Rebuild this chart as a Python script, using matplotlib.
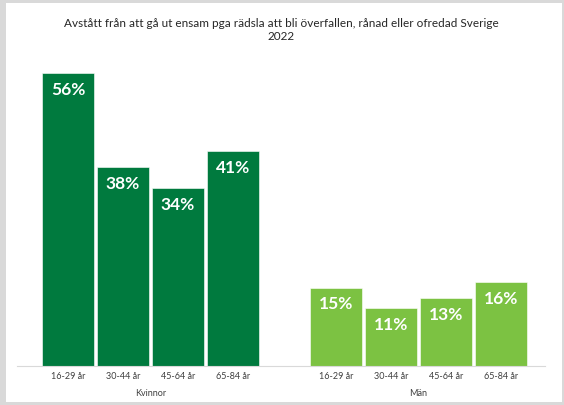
import matplotlib.pyplot as plt
from matplotlib.patches import Rectangle

# data
groups = ['Kvinnor', 'Män']
ages = ['16-29 år', '30-44 år', '45-64 år', '65-84 år']
kvinnor = [56, 38, 34, 41]
man = [15, 11, 13, 16]
colors = ['#007a3e', '#7cc242']

plt.rcParams['font.family'] = ['Lato', 'DejaVu Sans']

# initial the figure
fig = plt.figure(figsize=(5.64, 4.05), dpi=100, facecolor='#d9d9d9')
fig.patches.append(Rectangle((6 / 564, 3 / 405), 556 / 564, 399 / 405,
                             transform=fig.transFigure, facecolor='white',
                             edgecolor='none', zorder=-5))
ax = fig.add_axes([17 / 564, 39 / 405, 528 / 564, 314 / 405])
ax.set_facecolor('none')

# plot data
step = 103 / 55
x_k = [i for i in range(4)]
x_m = [3 + step + i for i in range(4)]
width = 52 / 55
for xs, vals, col in [(x_k, kvinnor, colors[0]), (x_m, man, colors[1])]:
    ax.bar(xs, vals, width=width, color=col, edgecolor='white', linewidth=0.4)
    for x, v in zip(xs, vals):
        ax.annotate(f'{v}%', (x, v), xytext=(0, -12), textcoords='offset points',
                    ha='center', va='center', color='white', fontsize=12.5,
                    fontweight='bold')

# group labels
for xs, name in [(x_k, groups[0]), (x_m, groups[1])]:
    ax.annotate(name, (sum(xs) / 4, 0), xycoords=('data', 'axes fraction'),
                xytext=(0, -20), textcoords='offset points', ha='center',
                va='center', fontsize=6.5, color='#404040')

# figure settings
fig.text(281 / 564, 1 - 30 / 405,
         'Avstått från att gå ut ensam pga rädsla att bli överfallen, rånad eller ofredad Sverige\n2022',
         ha='center', va='center', fontsize=8.5, color='#262626', linespacing=1.3)
ax.set_xlim(-51 / 55, x_m[-1] + 44 / 55)
ax.set_ylim(0, 60)
ax.set_xticks(x_k + x_m)
ax.set_xticklabels(ages * 2, fontsize=6.5, color='#404040')
ax.tick_params(axis='x', length=0, pad=4)
ax.set_yticks([])
for s in ['top', 'right', 'left']:
    ax.spines[s].set_visible(False)
ax.spines['bottom'].set_color('#d9d9d9')
ax.spines['bottom'].set_linewidth(0.8)

fig.savefig('out.png', dpi=100, facecolor=fig.get_facecolor())
